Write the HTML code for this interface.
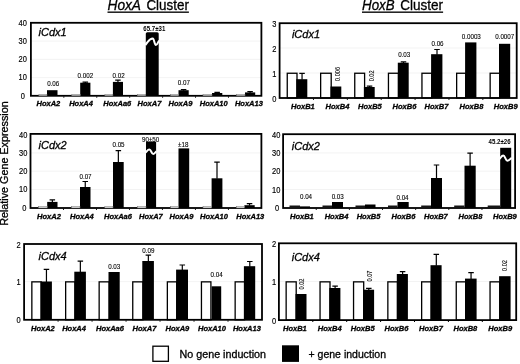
<!DOCTYPE html>
<html lang="en">
<head>
<meta charset="utf-8">
<title>HoxA / HoxB Cluster relative gene expression</title>
<style>
html,body{margin:0;padding:0;background:#fff;}
body{width:520px;height:364px;overflow:hidden;}
svg{display:block;font-family:"Liberation Sans", Arial, Helvetica, sans-serif;fill:#000;filter:blur(0.3px);}
text{stroke:#000;stroke-width:0.3px;}
text.p{stroke-width:0.1px;}
text.b{stroke:none;}
text.y{stroke-width:0.16px;}
</style>
</head>
<body>
<svg width="520" height="364" viewBox="0 0 520 364">
<rect width="520" height="364" fill="#fff"/>
<line x1="30.9" x2="261.4" y1="77.60" y2="77.60" stroke="#f0f0f0" stroke-width="0.8"/>
<line x1="30.9" x2="261.4" y1="59.40" y2="59.40" stroke="#f0f0f0" stroke-width="0.8"/>
<line x1="30.9" x2="261.4" y1="41.10" y2="41.10" stroke="#f0f0f0" stroke-width="0.8"/>
<rect x="47.00" y="90.20" width="10.50" height="5.60" fill="#000"/>
<text transform="translate(53.20 86.14) scale(0.96 1)" font-size="6.5" class="p" text-anchor="middle">0.06</text>
<path d="M85.30 83.20V82.20M82.55 82.20H88.05" stroke="#000" stroke-width="1.2" fill="none"/>
<rect x="80.20" y="82.70" width="10.20" height="13.10" fill="#000"/>
<text transform="translate(85.40 77.84) scale(0.96 1)" font-size="6.5" class="p" text-anchor="middle">0.002</text>
<path d="M117.95 82.40V80.20M115.20 80.20H120.70" stroke="#000" stroke-width="1.2" fill="none"/>
<rect x="112.90" y="81.90" width="10.10" height="13.90" fill="#000"/>
<text transform="translate(118.60 77.84) scale(0.96 1)" font-size="6.5" class="p" text-anchor="middle">0.02</text>
<rect x="145.80" y="32.20" width="12.90" height="63.60" fill="#000" rx="1.5"/>
<path d="M145.30 45.00 C148.66 41.04 149.41 38.40 152.77 38.40 C154.16 38.40 154.47 45.00 155.86 45.00 C157.36 45.00 157.70 42.36 159.20 40.60" stroke="#fff" stroke-width="2.0" fill="none" stroke-linecap="butt"/>
<text x="143.30" y="30.55" font-size="6.8" textLength="22" lengthAdjust="spacingAndGlyphs" font-weight="bold" class="b">65.7±31</text>
<path d="M183.60 90.70V89.60M180.85 89.60H186.35" stroke="#000" stroke-width="1.2" fill="none"/>
<rect x="178.50" y="90.20" width="10.20" height="5.60" fill="#000"/>
<text transform="translate(183.80 85.34) scale(0.96 1)" font-size="6.5" class="p" text-anchor="middle">0.07</text>
<path d="M217.15 93.50V92.40M214.40 92.40H219.90" stroke="#000" stroke-width="1.2" fill="none"/>
<rect x="212.00" y="93.00" width="10.30" height="2.80" fill="#000"/>
<path d="M250.10 92.90V91.60M247.35 91.60H252.85" stroke="#000" stroke-width="1.2" fill="none"/>
<rect x="245.00" y="92.40" width="10.20" height="3.40" fill="#000"/>
<rect x="30.9" y="22.8" width="230.50" height="73.00" fill="none" stroke="#000" stroke-width="1.8"/>
<rect x="38.90" y="94.25" width="8.10" height="1.5" fill="#fafafa" stroke="#6a6a6a" stroke-width="0.5"/>
<rect x="71.80" y="94.25" width="8.40" height="1.5" fill="#fafafa" stroke="#6a6a6a" stroke-width="0.5"/>
<rect x="104.90" y="94.25" width="8.00" height="1.5" fill="#fafafa" stroke="#6a6a6a" stroke-width="0.5"/>
<rect x="137.30" y="94.25" width="8.50" height="1.5" fill="#fafafa" stroke="#6a6a6a" stroke-width="0.5"/>
<rect x="170.70" y="94.25" width="7.80" height="1.5" fill="#fafafa" stroke="#6a6a6a" stroke-width="0.5"/>
<rect x="203.00" y="94.25" width="9.00" height="1.5" fill="#fafafa" stroke="#6a6a6a" stroke-width="0.5"/>
<rect x="236.60" y="94.25" width="8.40" height="1.5" fill="#fafafa" stroke="#6a6a6a" stroke-width="0.5"/>
<line x1="63.83" x2="63.83" y1="96.39999999999999" y2="97.69999999999999" stroke="#000" stroke-width="1"/>
<line x1="96.76" x2="96.76" y1="96.39999999999999" y2="97.69999999999999" stroke="#000" stroke-width="1"/>
<line x1="129.69" x2="129.69" y1="96.39999999999999" y2="97.69999999999999" stroke="#000" stroke-width="1"/>
<line x1="162.61" x2="162.61" y1="96.39999999999999" y2="97.69999999999999" stroke="#000" stroke-width="1"/>
<line x1="195.54" x2="195.54" y1="96.39999999999999" y2="97.69999999999999" stroke="#000" stroke-width="1"/>
<line x1="228.47" x2="228.47" y1="96.39999999999999" y2="97.69999999999999" stroke="#000" stroke-width="1"/>
<text transform="translate(26.90 25.69) scale(0.9 1)" font-size="8.3" class="y" text-anchor="end">40</text>
<text transform="translate(26.90 44.09) scale(0.9 1)" font-size="8.3" class="y" text-anchor="end">30</text>
<text transform="translate(26.90 62.29) scale(0.9 1)" font-size="8.3" class="y" text-anchor="end">20</text>
<text transform="translate(26.90 80.49) scale(0.9 1)" font-size="8.3" class="y" text-anchor="end">10</text>
<text transform="translate(25.00 99.09) scale(0.9 1)" font-size="8.3" class="y" text-anchor="end">0</text>
<text x="38.5" y="36.1" font-size="11" font-style="italic">iCdx1</text>
<text x="48.4" y="106.0" font-size="7.5" font-weight="bold" font-style="italic" text-anchor="middle">HoxA2</text>
<text x="81.1" y="106.0" font-size="7.5" font-weight="bold" font-style="italic" text-anchor="middle">HoxA4</text>
<text x="117.3" y="106.0" font-size="7.5" font-weight="bold" font-style="italic" text-anchor="middle">HoxAa6</text>
<text x="149.5" y="106.0" font-size="7.5" font-weight="bold" font-style="italic" text-anchor="middle">HoxA7</text>
<text x="180.5" y="106.0" font-size="7.5" font-weight="bold" font-style="italic" text-anchor="middle">HoxA9</text>
<text x="213.7" y="106.0" font-size="7.5" font-weight="bold" font-style="italic" text-anchor="middle">HoxA10</text>
<text x="248.9" y="106.0" font-size="7.5" font-weight="bold" font-style="italic" text-anchor="middle">HoxA13</text>
<line x1="30.5" x2="261.4" y1="189.50" y2="189.50" stroke="#f0f0f0" stroke-width="0.8"/>
<line x1="30.5" x2="261.4" y1="171.20" y2="171.20" stroke="#f0f0f0" stroke-width="0.8"/>
<line x1="30.5" x2="261.4" y1="152.90" y2="152.90" stroke="#f0f0f0" stroke-width="0.8"/>
<path d="M52.35 202.40V199.90M49.60 199.90H55.10" stroke="#000" stroke-width="1.2" fill="none"/>
<rect x="47.20" y="201.90" width="10.30" height="6.10" fill="#000"/>
<path d="M85.25 187.50V181.50M82.50 181.50H88.00" stroke="#000" stroke-width="1.2" fill="none"/>
<rect x="80.00" y="187.00" width="10.50" height="21.00" fill="#000"/>
<text transform="translate(85.50 179.34) scale(0.96 1)" font-size="6.5" class="p" text-anchor="middle">0.07</text>
<path d="M118.35 162.50V150.70M115.60 150.70H121.10" stroke="#000" stroke-width="1.2" fill="none"/>
<rect x="113.00" y="162.00" width="10.70" height="46.00" fill="#000"/>
<text transform="translate(118.50 147.14) scale(0.96 1)" font-size="6.5" class="p" text-anchor="middle">0.05</text>
<rect x="146.00" y="141.70" width="10.10" height="66.30" fill="#000"/>
<path d="M145.50 152.60 C147.27 150.74 147.66 149.50 149.43 149.50 C151.12 149.50 151.49 153.90 153.17 153.90 C154.71 153.90 155.06 152.40 156.60 151.40" stroke="#fff" stroke-width="2.0" fill="none" stroke-linecap="butt"/>
<text x="142.00" y="141.98" font-size="6.6" textLength="17.2" lengthAdjust="spacingAndGlyphs" class="p">90±50</text>
<rect x="178.50" y="148.40" width="10.70" height="59.60" fill="#000"/>
<text transform="translate(183.20 146.74) scale(0.96 1)" font-size="6.5" class="p" text-anchor="middle">±18</text>
<path d="M217.00 178.80V162.20M214.25 162.20H219.75" stroke="#000" stroke-width="1.2" fill="none"/>
<rect x="211.60" y="178.30" width="10.80" height="29.70" fill="#000"/>
<path d="M249.55 205.70V203.60M246.80 203.60H252.30" stroke="#000" stroke-width="1.2" fill="none"/>
<rect x="244.40" y="205.20" width="10.30" height="2.80" fill="#000"/>
<rect x="30.5" y="133.9" width="230.90" height="74.10" fill="none" stroke="#000" stroke-width="1.8"/>
<rect x="38.50" y="206.45" width="8.70" height="1.5" fill="#fafafa" stroke="#6a6a6a" stroke-width="0.5"/>
<rect x="71.50" y="206.45" width="8.50" height="1.5" fill="#fafafa" stroke="#6a6a6a" stroke-width="0.5"/>
<rect x="104.80" y="206.45" width="8.20" height="1.5" fill="#fafafa" stroke="#6a6a6a" stroke-width="0.5"/>
<rect x="137.30" y="206.45" width="8.70" height="1.5" fill="#fafafa" stroke="#6a6a6a" stroke-width="0.5"/>
<rect x="170.70" y="206.45" width="7.80" height="1.5" fill="#fafafa" stroke="#6a6a6a" stroke-width="0.5"/>
<rect x="203.00" y="206.45" width="8.60" height="1.5" fill="#fafafa" stroke="#6a6a6a" stroke-width="0.5"/>
<rect x="236.30" y="206.45" width="8.10" height="1.5" fill="#fafafa" stroke="#6a6a6a" stroke-width="0.5"/>
<line x1="63.49" x2="63.49" y1="208.6" y2="209.9" stroke="#000" stroke-width="1"/>
<line x1="96.47" x2="96.47" y1="208.6" y2="209.9" stroke="#000" stroke-width="1"/>
<line x1="129.46" x2="129.46" y1="208.6" y2="209.9" stroke="#000" stroke-width="1"/>
<line x1="162.44" x2="162.44" y1="208.6" y2="209.9" stroke="#000" stroke-width="1"/>
<line x1="195.43" x2="195.43" y1="208.6" y2="209.9" stroke="#000" stroke-width="1"/>
<line x1="228.41" x2="228.41" y1="208.6" y2="209.9" stroke="#000" stroke-width="1"/>
<text transform="translate(27.40 137.69) scale(0.9 1)" font-size="8.3" class="y" text-anchor="end">40</text>
<text transform="translate(27.40 156.09) scale(0.9 1)" font-size="8.3" class="y" text-anchor="end">30</text>
<text transform="translate(27.40 174.29) scale(0.9 1)" font-size="8.3" class="y" text-anchor="end">20</text>
<text transform="translate(27.40 192.49) scale(0.9 1)" font-size="8.3" class="y" text-anchor="end">10</text>
<text transform="translate(26.50 210.99) scale(0.9 1)" font-size="8.3" class="y" text-anchor="end">0</text>
<text x="38.5" y="149.1" font-size="11" font-style="italic">iCdx2</text>
<text x="49.0" y="219.4" font-size="7.5" font-weight="bold" font-style="italic" text-anchor="middle">HoxA2</text>
<text x="81.9" y="219.4" font-size="7.5" font-weight="bold" font-style="italic" text-anchor="middle">HoxA4</text>
<text x="118" y="219.4" font-size="7.5" font-weight="bold" font-style="italic" text-anchor="middle">HoxAa6</text>
<text x="150.9" y="219.4" font-size="7.5" font-weight="bold" font-style="italic" text-anchor="middle">HoxA7</text>
<text x="181.5" y="219.4" font-size="7.5" font-weight="bold" font-style="italic" text-anchor="middle">HoxA9</text>
<text x="214" y="219.4" font-size="7.5" font-weight="bold" font-style="italic" text-anchor="middle">HoxA10</text>
<text x="250.3" y="219.4" font-size="7.5" font-weight="bold" font-style="italic" text-anchor="middle">HoxA13</text>
<line x1="24.1" x2="262" y1="281.60" y2="281.60" stroke="#f0f0f0" stroke-width="0.8"/>
<rect x="31.85" y="281.85" width="9.35" height="37.95" fill="#fff" stroke="#000" stroke-width="1.3"/>
<path d="M46.45 282.00V269.40M43.70 269.40H49.20" stroke="#000" stroke-width="1.2" fill="none"/>
<rect x="40.50" y="281.50" width="11.40" height="38.30" fill="#000"/>
<rect x="65.65" y="281.85" width="9.35" height="37.95" fill="#fff" stroke="#000" stroke-width="1.3"/>
<path d="M80.35 272.20V261.20M77.60 261.20H83.10" stroke="#000" stroke-width="1.2" fill="none"/>
<rect x="74.30" y="271.70" width="11.60" height="48.10" fill="#000"/>
<rect x="99.15" y="281.85" width="10.05" height="37.95" fill="#fff" stroke="#000" stroke-width="1.3"/>
<rect x="108.50" y="272.00" width="11.20" height="47.80" fill="#000"/>
<text transform="translate(114.20 269.24) scale(0.96 1)" font-size="6.5" class="p" text-anchor="middle">0.03</text>
<rect x="132.75" y="281.85" width="10.25" height="37.95" fill="#fff" stroke="#000" stroke-width="1.3"/>
<path d="M148.35 261.50V255.20M145.60 255.20H151.10" stroke="#000" stroke-width="1.2" fill="none"/>
<rect x="142.30" y="261.00" width="11.60" height="58.80" fill="#000"/>
<text transform="translate(148.40 253.14) scale(0.96 1)" font-size="6.5" class="p" text-anchor="middle">0.09</text>
<rect x="167.35" y="281.85" width="9.45" height="37.95" fill="#fff" stroke="#000" stroke-width="1.3"/>
<path d="M182.30 270.10V265.00M179.55 265.00H185.05" stroke="#000" stroke-width="1.2" fill="none"/>
<rect x="176.10" y="269.60" width="11.90" height="50.20" fill="#000"/>
<rect x="201.45" y="281.85" width="9.45" height="37.95" fill="#fff" stroke="#000" stroke-width="1.3"/>
<rect x="211.60" y="286.30" width="9.60" height="33.50" fill="#000"/>
<text transform="translate(216.60 277.04) scale(0.96 1)" font-size="6.5" class="p" text-anchor="middle">0.04</text>
<rect x="235.15" y="281.85" width="9.45" height="37.95" fill="#fff" stroke="#000" stroke-width="1.3"/>
<path d="M249.80 266.70V261.50M247.05 261.50H252.55" stroke="#000" stroke-width="1.2" fill="none"/>
<rect x="243.90" y="266.20" width="11.30" height="53.60" fill="#000"/>
<rect x="24.1" y="244" width="237.90" height="75.80" fill="none" stroke="#000" stroke-width="1.8"/>
<line x1="58.09" x2="58.09" y1="320.40000000000003" y2="321.70000000000005" stroke="#000" stroke-width="1"/>
<line x1="92.07" x2="92.07" y1="320.40000000000003" y2="321.70000000000005" stroke="#000" stroke-width="1"/>
<line x1="126.06" x2="126.06" y1="320.40000000000003" y2="321.70000000000005" stroke="#000" stroke-width="1"/>
<line x1="160.04" x2="160.04" y1="320.40000000000003" y2="321.70000000000005" stroke="#000" stroke-width="1"/>
<line x1="194.03" x2="194.03" y1="320.40000000000003" y2="321.70000000000005" stroke="#000" stroke-width="1"/>
<line x1="228.01" x2="228.01" y1="320.40000000000003" y2="321.70000000000005" stroke="#000" stroke-width="1"/>
<text transform="translate(20.60 247.59) scale(0.9 1)" font-size="8.3" class="y" text-anchor="end">2</text>
<text transform="translate(20.60 285.39) scale(0.9 1)" font-size="8.3" class="y" text-anchor="end">1</text>
<text transform="translate(20.60 322.79) scale(0.9 1)" font-size="8.3" class="y" text-anchor="end">0</text>
<text x="38.5" y="259.5" font-size="11" font-style="italic">iCdx4</text>
<text x="42.9" y="331" font-size="7.5" font-weight="bold" font-style="italic" text-anchor="middle">HoxA2</text>
<text x="74.1" y="331" font-size="7.5" font-weight="bold" font-style="italic" text-anchor="middle">HoxA4</text>
<text x="110" y="331" font-size="7.5" font-weight="bold" font-style="italic" text-anchor="middle">HoxAa6</text>
<text x="144.5" y="331" font-size="7.5" font-weight="bold" font-style="italic" text-anchor="middle">HoxA7</text>
<text x="177.4" y="331" font-size="7.5" font-weight="bold" font-style="italic" text-anchor="middle">HoxA9</text>
<text x="212" y="331" font-size="7.5" font-weight="bold" font-style="italic" text-anchor="middle">HoxA10</text>
<text x="246.9" y="331" font-size="7.5" font-weight="bold" font-style="italic" text-anchor="middle">HoxA13</text>
<line x1="279.6" x2="516.7" y1="73.00" y2="73.00" stroke="#f0f0f0" stroke-width="0.8"/>
<line x1="279.6" x2="516.7" y1="48.00" y2="48.00" stroke="#f0f0f0" stroke-width="0.8"/>
<rect x="287.25" y="73.25" width="9.75" height="24.75" fill="#fff" stroke="#000" stroke-width="1.3"/>
<path d="M302.05 79.70V73.30M299.30 73.30H304.80" stroke="#000" stroke-width="1.2" fill="none"/>
<rect x="296.30" y="79.20" width="11.00" height="18.80" fill="#000"/>
<rect x="320.65" y="73.25" width="10.55" height="24.75" fill="#fff" stroke="#000" stroke-width="1.3"/>
<rect x="330.50" y="86.50" width="10.80" height="11.50" fill="#000"/>
<text transform="translate(339.80 74.00) rotate(-90) scale(0.88 1)" font-size="6.4" class="p" text-anchor="middle">0.006</text>
<rect x="354.75" y="73.25" width="9.85" height="24.75" fill="#fff" stroke="#000" stroke-width="1.3"/>
<path d="M369.55 87.50V86.20M366.80 86.20H372.30" stroke="#000" stroke-width="1.2" fill="none"/>
<rect x="363.90" y="87.00" width="10.80" height="11.00" fill="#000"/>
<text transform="translate(374.20 75.90) rotate(-90) scale(0.88 1)" font-size="6.4" class="p" text-anchor="middle">0.02</text>
<rect x="388.45" y="73.25" width="10.05" height="24.75" fill="#fff" stroke="#000" stroke-width="1.3"/>
<path d="M403.50 63.20V61.80M400.75 61.80H406.25" stroke="#000" stroke-width="1.2" fill="none"/>
<rect x="397.80" y="62.70" width="10.90" height="35.30" fill="#000"/>
<text transform="translate(404.20 57.34) scale(0.96 1)" font-size="6.5" class="p" text-anchor="middle">0.03</text>
<rect x="421.95" y="73.25" width="9.85" height="24.75" fill="#fff" stroke="#000" stroke-width="1.3"/>
<path d="M437.00 54.70V49.50M434.25 49.50H439.75" stroke="#000" stroke-width="1.2" fill="none"/>
<rect x="431.10" y="54.20" width="11.30" height="43.80" fill="#000"/>
<text transform="translate(437.50 46.24) scale(0.96 1)" font-size="6.5" class="p" text-anchor="middle">0.06</text>
<rect x="456.65" y="73.25" width="9.15" height="24.75" fill="#fff" stroke="#000" stroke-width="1.3"/>
<rect x="465.10" y="42.40" width="11.30" height="55.60" fill="#000"/>
<text transform="translate(471.30 39.34) scale(0.96 1)" font-size="6.5" class="p" text-anchor="middle">0.0003</text>
<rect x="490.15" y="73.25" width="9.55" height="24.75" fill="#fff" stroke="#000" stroke-width="1.3"/>
<rect x="499.00" y="43.80" width="11.20" height="54.20" fill="#000"/>
<text transform="translate(504.70 39.34) scale(0.96 1)" font-size="6.5" class="p" text-anchor="middle">0.0007</text>
<rect x="279.6" y="23.2" width="237.10" height="74.80" fill="none" stroke="#000" stroke-width="1.8"/>
<line x1="313.47" x2="313.47" y1="98.6" y2="99.89999999999999" stroke="#000" stroke-width="1"/>
<line x1="347.34" x2="347.34" y1="98.6" y2="99.89999999999999" stroke="#000" stroke-width="1"/>
<line x1="381.21" x2="381.21" y1="98.6" y2="99.89999999999999" stroke="#000" stroke-width="1"/>
<line x1="415.09" x2="415.09" y1="98.6" y2="99.89999999999999" stroke="#000" stroke-width="1"/>
<line x1="448.96" x2="448.96" y1="98.6" y2="99.89999999999999" stroke="#000" stroke-width="1"/>
<line x1="482.83" x2="482.83" y1="98.6" y2="99.89999999999999" stroke="#000" stroke-width="1"/>
<text transform="translate(276.40 27.09) scale(0.9 1)" font-size="8.3" class="y" text-anchor="end">3</text>
<text transform="translate(276.40 52.09) scale(0.9 1)" font-size="8.3" class="y" text-anchor="end">2</text>
<text transform="translate(276.40 77.09) scale(0.9 1)" font-size="8.3" class="y" text-anchor="end">1</text>
<text transform="translate(276.40 101.99) scale(0.9 1)" font-size="8.3" class="y" text-anchor="end">0</text>
<text x="291.9" y="38.2" font-size="11" font-style="italic">iCdx1</text>
<text x="302.9" y="109.0" font-size="7.5" font-weight="bold" font-style="italic" text-anchor="middle">HoxB1</text>
<text x="337.5" y="109.0" font-size="7.5" font-weight="bold" font-style="italic" text-anchor="middle">HoxB4</text>
<text x="369.9" y="109.0" font-size="7.5" font-weight="bold" font-style="italic" text-anchor="middle">HoxB5</text>
<text x="404.5" y="109.0" font-size="7.5" font-weight="bold" font-style="italic" text-anchor="middle">HoxB6</text>
<text x="436.5" y="109.0" font-size="7.5" font-weight="bold" font-style="italic" text-anchor="middle">HoxB7</text>
<text x="471.5" y="109.0" font-size="7.5" font-weight="bold" font-style="italic" text-anchor="middle">HoxB8</text>
<text x="505.7" y="109.0" font-size="7.5" font-weight="bold" font-style="italic" text-anchor="middle">HoxB9</text>
<line x1="283.1" x2="515.1" y1="189.50" y2="189.50" stroke="#f0f0f0" stroke-width="0.8"/>
<line x1="283.1" x2="515.1" y1="171.20" y2="171.20" stroke="#f0f0f0" stroke-width="0.8"/>
<line x1="283.1" x2="515.1" y1="152.90" y2="152.90" stroke="#f0f0f0" stroke-width="0.8"/>
<rect x="300.00" y="206.40" width="10.00" height="1.60" fill="#000"/>
<text transform="translate(306.00 199.24) scale(0.96 1)" font-size="6.5" class="p" text-anchor="middle">0.04</text>
<rect x="332.00" y="202.00" width="11.00" height="6.00" fill="#000"/>
<text transform="translate(337.70 199.24) scale(0.96 1)" font-size="6.5" class="p" text-anchor="middle">0.03</text>
<rect x="365.00" y="204.50" width="10.50" height="3.50" fill="#000"/>
<rect x="397.50" y="202.00" width="11.20" height="6.00" fill="#000"/>
<text transform="translate(402.50 199.94) scale(0.96 1)" font-size="6.5" class="p" text-anchor="middle">0.04</text>
<path d="M436.50 178.50V165.00M433.75 165.00H439.25" stroke="#000" stroke-width="1.2" fill="none"/>
<rect x="431.00" y="178.00" width="11.00" height="30.00" fill="#000"/>
<path d="M470.10 166.20V153.20M467.35 153.20H472.85" stroke="#000" stroke-width="1.2" fill="none"/>
<rect x="464.50" y="165.70" width="11.20" height="42.30" fill="#000"/>
<rect x="500.20" y="147.80" width="11.00" height="60.20" fill="#000"/>
<path d="M499.70 159.00 C501.31 156.96 501.67 155.60 503.28 155.60 C505.11 155.60 505.52 160.80 507.35 160.80 C509.31 160.80 509.74 159.06 511.70 157.90" stroke="#fff" stroke-width="2.0" fill="none" stroke-linecap="butt"/>
<text x="488.60" y="144.35" font-size="6.8" textLength="22" lengthAdjust="spacingAndGlyphs" font-weight="bold" class="b">45.2±26</text>
<rect x="283.1" y="134.2" width="232.00" height="73.80" fill="none" stroke="#000" stroke-width="1.8"/>
<rect x="289.50" y="205.50" width="10.50" height="2.5" fill="#161616"/>
<rect x="322.50" y="205.50" width="9.50" height="2.5" fill="#161616"/>
<rect x="355.50" y="205.50" width="9.50" height="2.5" fill="#161616"/>
<rect x="388.00" y="205.50" width="9.50" height="2.5" fill="#161616"/>
<rect x="421.20" y="205.50" width="9.80" height="2.5" fill="#161616"/>
<rect x="454.20" y="205.50" width="10.30" height="2.5" fill="#161616"/>
<rect x="487.70" y="205.50" width="12.50" height="2.5" fill="#161616"/>
<line x1="316.24" x2="316.24" y1="208.6" y2="209.9" stroke="#000" stroke-width="1"/>
<line x1="349.39" x2="349.39" y1="208.6" y2="209.9" stroke="#000" stroke-width="1"/>
<line x1="382.53" x2="382.53" y1="208.6" y2="209.9" stroke="#000" stroke-width="1"/>
<line x1="415.67" x2="415.67" y1="208.6" y2="209.9" stroke="#000" stroke-width="1"/>
<line x1="448.81" x2="448.81" y1="208.6" y2="209.9" stroke="#000" stroke-width="1"/>
<line x1="481.96" x2="481.96" y1="208.6" y2="209.9" stroke="#000" stroke-width="1"/>
<text transform="translate(280.30 137.79) scale(0.9 1)" font-size="8.3" class="y" text-anchor="end">40</text>
<text transform="translate(280.30 155.99) scale(0.9 1)" font-size="8.3" class="y" text-anchor="end">30</text>
<text transform="translate(280.30 174.49) scale(0.9 1)" font-size="8.3" class="y" text-anchor="end">20</text>
<text transform="translate(280.30 192.79) scale(0.9 1)" font-size="8.3" class="y" text-anchor="end">10</text>
<text transform="translate(279.10 211.09) scale(0.9 1)" font-size="8.3" class="y" text-anchor="end">0</text>
<text x="291.8" y="150.3" font-size="11" font-style="italic">iCdx2</text>
<text x="301.9" y="219.2" font-size="7.5" font-weight="bold" font-style="italic" text-anchor="middle">HoxB1</text>
<text x="336.6" y="219.2" font-size="7.5" font-weight="bold" font-style="italic" text-anchor="middle">HoxB4</text>
<text x="368.6" y="219.2" font-size="7.5" font-weight="bold" font-style="italic" text-anchor="middle">HoxB5</text>
<text x="403.5" y="219.2" font-size="7.5" font-weight="bold" font-style="italic" text-anchor="middle">HoxB6</text>
<text x="435.9" y="219.2" font-size="7.5" font-weight="bold" font-style="italic" text-anchor="middle">HoxB7</text>
<text x="470.5" y="219.2" font-size="7.5" font-weight="bold" font-style="italic" text-anchor="middle">HoxB8</text>
<text x="504.9" y="219.2" font-size="7.5" font-weight="bold" font-style="italic" text-anchor="middle">HoxB9</text>
<line x1="278.9" x2="516.2" y1="281.50" y2="281.50" stroke="#f0f0f0" stroke-width="0.8"/>
<rect x="286.15" y="281.85" width="10.05" height="38.25" fill="#fff" stroke="#000" stroke-width="1.3"/>
<rect x="295.50" y="294.00" width="11.00" height="26.10" fill="#000"/>
<text transform="translate(304.00 284.00) rotate(-90) scale(0.88 1)" font-size="6.4" class="p" text-anchor="middle">0.02</text>
<rect x="320.05" y="281.85" width="9.95" height="38.25" fill="#fff" stroke="#000" stroke-width="1.3"/>
<path d="M335.10 288.50V286.20M332.35 286.20H337.85" stroke="#000" stroke-width="1.2" fill="none"/>
<rect x="329.30" y="288.00" width="11.10" height="32.10" fill="#000"/>
<rect x="353.55" y="281.85" width="10.15" height="38.25" fill="#fff" stroke="#000" stroke-width="1.3"/>
<path d="M368.80 290.20V288.30M366.05 288.30H371.55" stroke="#000" stroke-width="1.2" fill="none"/>
<rect x="363.00" y="289.70" width="11.10" height="30.40" fill="#000"/>
<text transform="translate(372.40 276.00) rotate(-90) scale(0.88 1)" font-size="6.4" class="p" text-anchor="middle">0.07</text>
<rect x="387.85" y="281.85" width="9.65" height="38.25" fill="#fff" stroke="#000" stroke-width="1.3"/>
<path d="M402.60 274.50V271.60M399.85 271.60H405.35" stroke="#000" stroke-width="1.2" fill="none"/>
<rect x="396.80" y="274.00" width="11.10" height="46.10" fill="#000"/>
<rect x="421.65" y="281.85" width="9.55" height="38.25" fill="#fff" stroke="#000" stroke-width="1.3"/>
<path d="M436.30 265.70V254.40M433.55 254.40H439.05" stroke="#000" stroke-width="1.2" fill="none"/>
<rect x="430.50" y="265.20" width="11.10" height="54.90" fill="#000"/>
<rect x="456.25" y="281.85" width="9.45" height="38.25" fill="#fff" stroke="#000" stroke-width="1.3"/>
<path d="M471.05 279.10V272.70M468.30 272.70H473.80" stroke="#000" stroke-width="1.2" fill="none"/>
<rect x="465.00" y="278.60" width="11.60" height="41.50" fill="#000"/>
<rect x="490.05" y="281.85" width="9.75" height="38.25" fill="#fff" stroke="#000" stroke-width="1.3"/>
<rect x="499.10" y="276.20" width="11.50" height="43.90" fill="#000"/>
<text transform="translate(507.30 265.50) rotate(-90) scale(0.88 1)" font-size="6.4" class="p" text-anchor="middle">0.02</text>
<rect x="278.9" y="243.3" width="237.30" height="76.80" fill="none" stroke="#000" stroke-width="1.8"/>
<line x1="312.80" x2="312.80" y1="320.70000000000005" y2="322.00000000000006" stroke="#000" stroke-width="1"/>
<line x1="346.70" x2="346.70" y1="320.70000000000005" y2="322.00000000000006" stroke="#000" stroke-width="1"/>
<line x1="380.60" x2="380.60" y1="320.70000000000005" y2="322.00000000000006" stroke="#000" stroke-width="1"/>
<line x1="414.50" x2="414.50" y1="320.70000000000005" y2="322.00000000000006" stroke="#000" stroke-width="1"/>
<line x1="448.40" x2="448.40" y1="320.70000000000005" y2="322.00000000000006" stroke="#000" stroke-width="1"/>
<line x1="482.30" x2="482.30" y1="320.70000000000005" y2="322.00000000000006" stroke="#000" stroke-width="1"/>
<text transform="translate(276.20 247.19) scale(0.9 1)" font-size="8.3" class="y" text-anchor="end">2</text>
<text transform="translate(276.20 285.49) scale(0.9 1)" font-size="8.3" class="y" text-anchor="end">1</text>
<text transform="translate(276.20 323.79) scale(0.9 1)" font-size="8.3" class="y" text-anchor="end">0</text>
<text x="291.7" y="260.9" font-size="11" font-style="italic">iCdx4</text>
<text x="294.9" y="330.9" font-size="7.5" font-weight="bold" font-style="italic" text-anchor="middle">HoxB1</text>
<text x="329.7" y="330.9" font-size="7.5" font-weight="bold" font-style="italic" text-anchor="middle">HoxB4</text>
<text x="362.7" y="330.9" font-size="7.5" font-weight="bold" font-style="italic" text-anchor="middle">HoxB5</text>
<text x="396.5" y="330.9" font-size="7.5" font-weight="bold" font-style="italic" text-anchor="middle">HoxB6</text>
<text x="431" y="330.9" font-size="7.5" font-weight="bold" font-style="italic" text-anchor="middle">HoxB7</text>
<text x="465.4" y="330.9" font-size="7.5" font-weight="bold" font-style="italic" text-anchor="middle">HoxB8</text>
<text x="500.2" y="330.9" font-size="7.5" font-weight="bold" font-style="italic" text-anchor="middle">HoxB9</text>
<text x="107.5" y="9.9" font-size="14.6" font-style="italic" textLength="33.5" lengthAdjust="spacingAndGlyphs">HoxA</text>
<text x="146.4" y="9.9" font-size="14.6" textLength="42.5" lengthAdjust="spacingAndGlyphs">Cluster</text>
<rect x="107.5" y="11.5" width="81.4" height="1.35" fill="#000"/>
<text x="362.0" y="9.9" font-size="14.6" font-style="italic" textLength="32.6" lengthAdjust="spacingAndGlyphs">HoxB</text>
<text x="400.2" y="9.9" font-size="14.6" textLength="42.9" lengthAdjust="spacingAndGlyphs">Cluster</text>
<rect x="362.0" y="11.5" width="81.1" height="1.35" fill="#000"/>
<text transform="translate(8.0 163.6) rotate(-90)" font-size="10.2" text-anchor="middle" textLength="124.5" lengthAdjust="spacingAndGlyphs">Relative Gene Expression</text>
<rect x="152.9" y="346.2" width="15.5" height="15.1" fill="#fff" stroke="#000" stroke-width="1.3"/>
<text x="179.6" y="358" font-size="10.7" textLength="86.4" lengthAdjust="spacingAndGlyphs">No gene induction</text>
<rect x="282" y="345.3" width="17" height="16.6" fill="#000"/>
<text x="308.5" y="358" font-size="10.7" textLength="77.5" lengthAdjust="spacingAndGlyphs">+ gene induction</text>
</svg>
</body>
</html>
